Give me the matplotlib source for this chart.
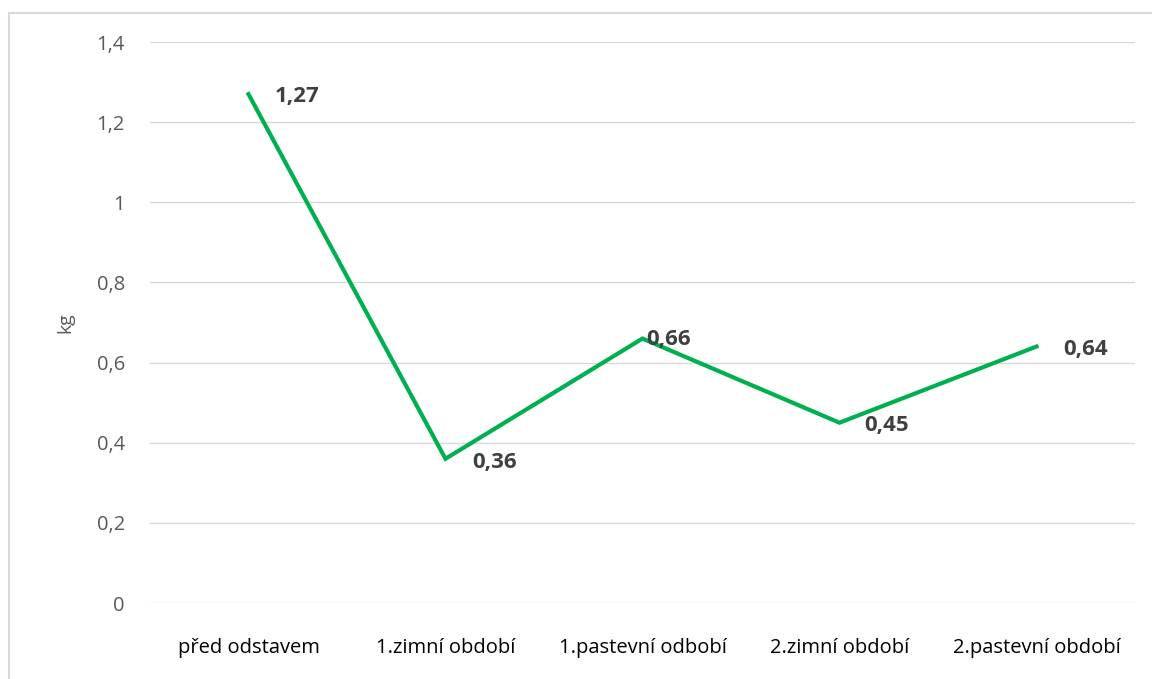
import matplotlib
matplotlib.use("Agg")
import matplotlib.pyplot as plt
from matplotlib.lines import Line2D

categories = ["před odstavem", "1.zimní období", "1.pastevní odbobí",
              "2.zimní období", "2.pastevní období"]
values = [1.27, 0.36, 0.66, 0.45, 0.64]
yticks = [0, 0.2, 0.4, 0.6, 0.8, 1.0, 1.2, 1.4]

plt.rcParams["font.family"] = ["Open Sans", "DejaVu Sans"]

fig = plt.figure(figsize=(11.52, 6.79), dpi=100)
ax = fig.add_axes([0.1302, 0.1119, 0.9852 - 0.1302, 0.9381 - 0.1119])

x = list(range(len(categories)))
ax.plot(x, values, color="#00B050", lw=3.0, solid_joinstyle="miter")

# data labels, mostly right of the point
offsets = [(19, -2), (19, -3), (3, -1), (18, -2), (19, -2)]
for xi, v, off in zip(x, values, offsets):
    ax.annotate(f"{v:.2f}".replace(".", ","), (xi, v), xytext=off,
                textcoords="offset points", ha="left", va="center",
                fontsize=16, fontweight="bold", color="#404040")

ax.set_xlim(-0.5, len(categories) - 0.5)
ax.set_ylim(0, 1.4)
ax.set_yticks(yticks)
ax.set_yticklabels([("%g" % t).replace(".", ",") for t in yticks])
ax.set_xticks(x)
ax.set_xticklabels(categories)

ax.grid(axis="y", color="#D9D9D9", lw=1)
ax.set_axisbelow(True)
for s in ax.spines.values():
    s.set_visible(False)
ax.tick_params(axis="y", length=0, pad=18, labelsize=14.5, labelcolor="#595959")
ax.tick_params(axis="x", length=0, pad=25, labelsize=14.5, labelcolor="#000000")

ax.set_ylabel("kg", fontsize=14, color="#595959", labelpad=16)

# chart frame
fig.add_artist(Line2D([9 / 1152, 1], [1 - 13 / 679, 1 - 13 / 679],
                      transform=fig.transFigure, color="#D9D9D9", lw=1.5))
fig.add_artist(Line2D([9 / 1152, 9 / 1152], [0, 1 - 13 / 679],
                      transform=fig.transFigure, color="#D9D9D9", lw=1.5))

fig.savefig("out.png", dpi=100)
